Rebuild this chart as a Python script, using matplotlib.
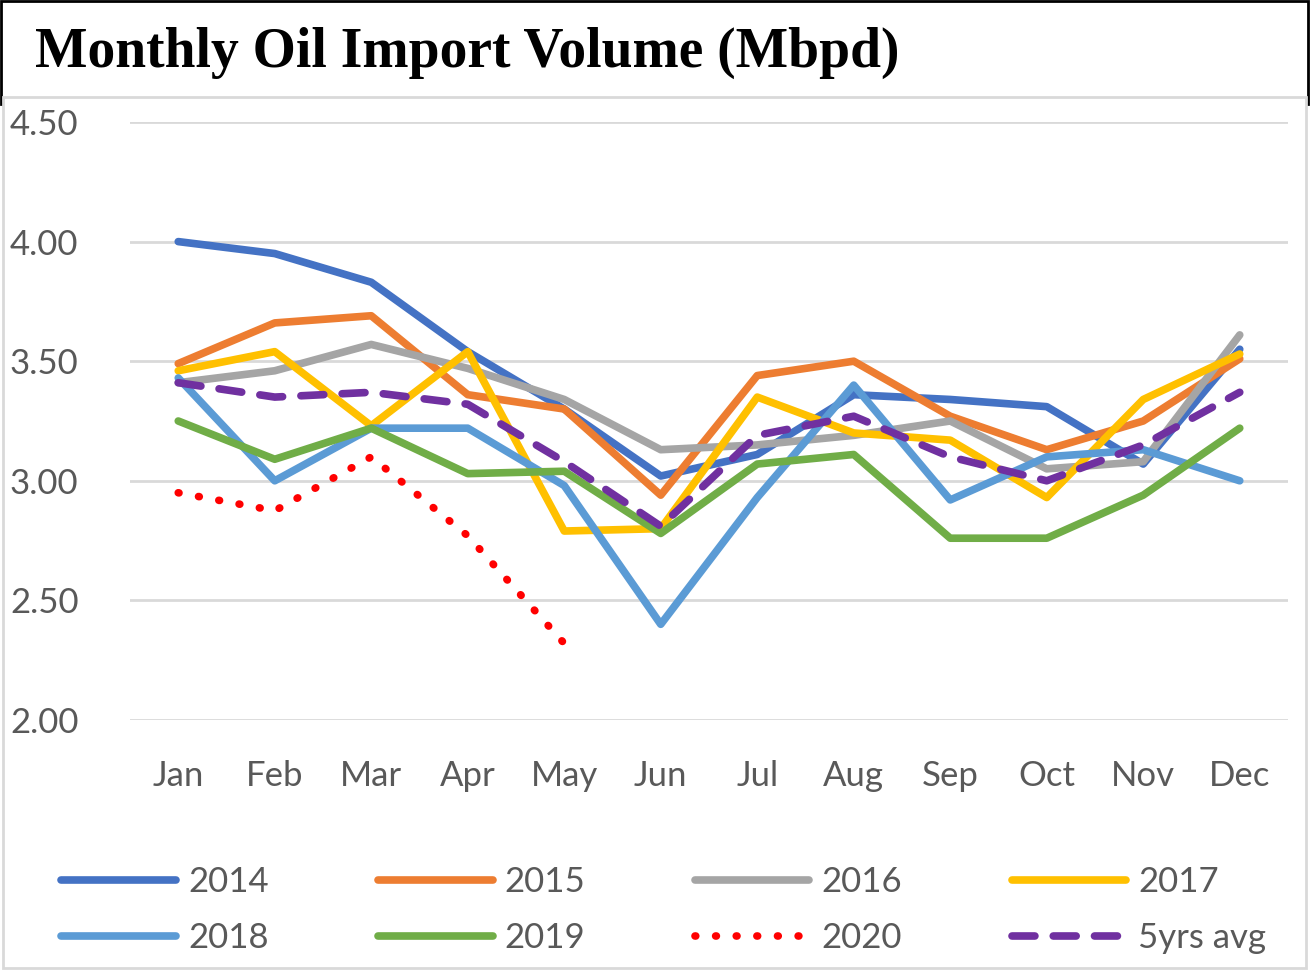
import matplotlib
matplotlib.use("Agg")
import matplotlib.pyplot as plt
from matplotlib.patches import Rectangle
import numpy as np

months = ['Jan', 'Feb', 'Mar', 'Apr', 'May', 'Jun', 'Jul', 'Aug', 'Sep', 'Oct', 'Nov', 'Dec']
y2014 = [4.00, 3.95, 3.83, 3.54, 3.30, 3.02, 3.11, 3.36, 3.34, 3.31, 3.07, 3.55]
y2015 = [3.49, 3.66, 3.69, 3.36, 3.30, 2.94, 3.44, 3.50, 3.27, 3.13, 3.25, 3.51]
y2016 = [3.41, 3.46, 3.57, 3.47, 3.34, 3.13, 3.15, 3.19, 3.25, 3.05, 3.08, 3.61]
y2017 = [3.46, 3.54, 3.23, 3.54, 2.79, 2.80, 3.35, 3.20, 3.17, 2.93, 3.34, 3.53]
y2018 = [3.43, 3.00, 3.22, 3.22, 2.98, 2.40, 2.93, 3.40, 2.92, 3.10, 3.13, 3.00]
y2019 = [3.25, 3.09, 3.22, 3.03, 3.04, 2.78, 3.07, 3.11, 2.76, 2.76, 2.94, 3.22]
y2020 = [2.95, 2.875, 3.10, 2.77, 2.32]
avg5 = [3.41, 3.35, 3.37, 3.32, 3.08, 2.81, 3.19, 3.27, 3.10, 3.00, 3.15, 3.37]
yticks = [2.00, 2.50, 3.00, 3.50, 4.00, 4.50]

TXT = '#595959'
LBL = ['Lato', 'DejaVu Sans']
FS = 25

fig = plt.figure(figsize=(13.1, 9.71), dpi=100)

# title box and chart area frames
fig.patches.append(Rectangle((0.0008, 1 - 104 / 971), 0.998, 104 / 971 - 0.001,
                             transform=fig.transFigure, fill=False, edgecolor='black',
                             linewidth=2.0, zorder=-3))
fig.patches.append(Rectangle((3 / 1310, 3 / 971), 1303 / 1310, 871 / 971,
                             transform=fig.transFigure, facecolor='white', edgecolor='#d9d9d9',
                             linewidth=2.0, zorder=-2))
fig.text(35 / 1310, 1 - 53 / 971, 'Monthly Oil Import Volume (Mbpd)', family='Liberation Serif',
         weight='bold', fontsize=40, va='center', ha='left')

ax = fig.add_axes([130 / 1310, 1 - 720 / 971, 1158 / 1310, 598 / 971])
ax.patch.set_alpha(0)
x = np.arange(len(months))
lw = 5.5
ax.plot(x, y2014, color='#4472c4', lw=lw, label='2014', solid_capstyle='round')
ax.plot(x, y2015, color='#ed7d31', lw=lw, label='2015', solid_capstyle='round')
ax.plot(x, y2016, color='#a5a5a5', lw=lw, label='2016', solid_capstyle='round')
ax.plot(x, y2017, color='#ffc000', lw=lw, label='2017', solid_capstyle='round')
ax.plot(x, y2018, color='#5b9bd5', lw=lw, label='2018', solid_capstyle='round')
ax.plot(x, y2019, color='#70ad47', lw=lw, label='2019', solid_capstyle='round')
ax.plot(x[:len(y2020)], y2020, color='#ff0000', lw=lw, label='2020',
        linestyle=(0, (0.1, 2.6)), dash_capstyle='round')
ax.plot(x, avg5, color='#7030a0', lw=lw, label='5yrs avg',
        linestyle=(0, (3.0, 2.4)), dash_capstyle='round')

ax.set_xlim(-0.5, 11.5)
ax.set_ylim(2.0, 4.5)
ax.set_yticks(yticks)
ax.set_yticklabels(['%.2f' % v for v in yticks])
ax.set_xticks(x)
ax.set_xticklabels(months)
for s in ax.spines.values():
    s.set_visible(False)
ax.tick_params(axis='both', length=0, labelsize=FS, labelcolor=TXT)
ax.tick_params(axis='y', pad=37)
ax.tick_params(axis='x', pad=29)
for t in ax.get_xticklabels() + ax.get_yticklabels():
    t.set_family(LBL)
ax.grid(axis='y', color='#d9d9d9', lw=2.0)
ax.set_axisbelow(True)

h, l = ax.get_legend_handles_labels()
order = [0, 4, 1, 5, 2, 6, 3, 7]
leg = fig.legend([h[i] for i in order], [l[i] for i in order], ncol=4,
                 loc='center left', bbox_to_anchor=(30 / 1310, 1 - 910 / 971),
                 frameon=False, handlelength=3.3, handletextpad=0.35,
                 columnspacing=3.15, labelspacing=0.68,
                 prop={'family': LBL, 'size': FS})
for t in leg.get_texts():
    t.set_color(TXT)

fig.savefig('out.png', dpi=100)
